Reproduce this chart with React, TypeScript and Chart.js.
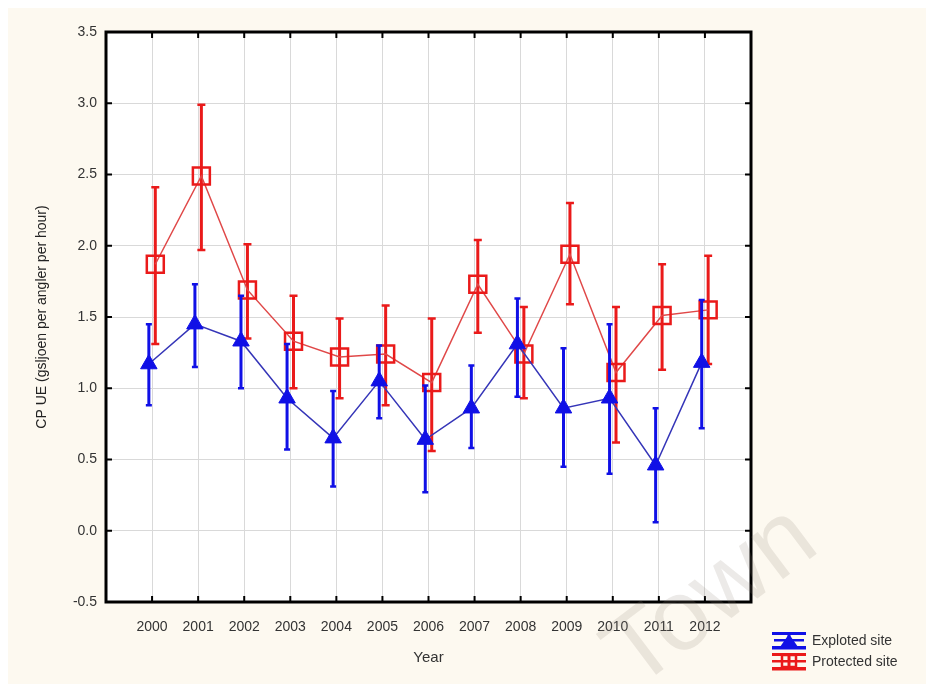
import React, { useEffect, useRef } from 'react';
import { Chart, registerables } from 'chart.js';

Chart.register(...registerables);

const years = [2000, 2001, 2002, 2003, 2004, 2005, 2006, 2007, 2008, 2009, 2010, 2011, 2012];

const exploitedMean = [1.17, 1.45, 1.33, 0.93, 0.65, 1.05, 0.64, 0.86, 1.31, 0.86, 0.93, 0.46, 1.18];
const exploitedUpper = [1.45, 1.73, 1.65, 1.31, 0.98, 1.30, 1.02, 1.16, 1.63, 1.28, 1.45, 0.86, 1.62];
const exploitedLower = [0.88, 1.15, 1.00, 0.57, 0.31, 0.79, 0.27, 0.58, 0.94, 0.45, 0.40, 0.06, 0.72];

const protectedMean = [1.87, 2.49, 1.69, 1.33, 1.22, 1.24, 1.04, 1.73, 1.24, 1.94, 1.11, 1.51, 1.55];
const protectedUpper = [2.41, 2.99, 2.01, 1.65, 1.49, 1.58, 1.49, 2.04, 1.57, 2.30, 1.57, 1.87, 1.93];
const protectedLower = [1.31, 1.97, 1.35, 1.00, 0.93, 0.88, 0.56, 1.39, 0.93, 1.59, 0.62, 1.13, 1.17];

const yTickValues = [-0.5, 0, 0.5, 1.0, 1.5, 2.0, 2.5, 3.0, 3.5];

const seriesNames = ['Exploted site', 'Protected site'];
const xTitle = 'Year';
const yTitle = 'CP UE (gsljoen per angler per hour)';
const watermark = 'Town';

const BLUE = '#1010e6';
const BLUE_LINE = '#3535b8';
const RED = '#ea1a1a';
const RED_LINE = '#e04848';
const CREAM = '#fdf9f0';
const FONT = '"Liberation Sans", Arial, sans-serif';
const DODGE = 0.07;

const lowers = [exploitedLower, protectedLower];
const uppers = [exploitedUpper, protectedUpper];
const barColors = [BLUE, RED];

export default function App() {
  const ref = useRef<HTMLCanvasElement | null>(null);

  useEffect(() => {
    const canvas = ref.current;
    if (!canvas) return;

    const bgPlugin = {
      id: 'bg',
      beforeDraw(chart: any) {
        const { ctx, width, height, chartArea } = chart;
        ctx.save();
        ctx.fillStyle = '#ffffff';
        ctx.fillRect(0, 0, width, height);
        ctx.fillStyle = CREAM;
        ctx.fillRect(8, 8, width - 8, height - 8);
        ctx.fillStyle = '#ffffff';
        ctx.fillRect(chartArea.left, chartArea.top, chartArea.right - chartArea.left, chartArea.bottom - chartArea.top);
        ctx.restore();
      },
    };

    const errPlugin = {
      id: 'errbars',
      beforeDatasetDraw(chart: any, args: any) {
        const i = args.index;
        const { ctx } = chart;
        const xs = chart.scales.x;
        const ys = chart.scales.y;
        const off = i === 0 ? -DODGE : DODGE;
        ctx.save();
        ctx.strokeStyle = barColors[i];
        const cap = i === 0 ? 3 : 4;
        years.forEach((yr, k) => {
          const px = xs.getPixelForValue(yr + off);
          const pTop = ys.getPixelForValue(uppers[i][k]);
          const pBot = ys.getPixelForValue(lowers[i][k]);
          ctx.lineWidth = 3;
          ctx.beginPath();
          ctx.moveTo(px, pTop);
          ctx.lineTo(px, pBot);
          ctx.stroke();
          ctx.lineWidth = 2.5;
          ctx.beginPath();
          ctx.moveTo(px - cap, pTop);
          ctx.lineTo(px + cap, pTop);
          ctx.moveTo(px - cap, pBot);
          ctx.lineTo(px + cap, pBot);
          ctx.stroke();
        });
        ctx.restore();
      },
    };

    const framePlugin = {
      id: 'frame',
      afterDraw(chart: any) {
        const { ctx, chartArea } = chart;
        const { left, right, top, bottom } = chartArea;
        const xs = chart.scales.x;
        const ys = chart.scales.y;
        ctx.save();
        ctx.strokeStyle = '#000';
        ctx.lineWidth = 2;
        ctx.beginPath();
        years.forEach((yr) => {
          const px = xs.getPixelForValue(yr);
          ctx.moveTo(px, bottom);
          ctx.lineTo(px, bottom - 6);
          ctx.moveTo(px, top);
          ctx.lineTo(px, top + 6);
        });
        yTickValues.forEach((v) => {
          const py = ys.getPixelForValue(v);
          ctx.moveTo(left, py);
          ctx.lineTo(left + 6, py);
          ctx.moveTo(right, py);
          ctx.lineTo(right - 6, py);
        });
        ctx.stroke();
        ctx.lineWidth = 3;
        ctx.strokeRect(left, top, right - left, bottom - top);

        // legend
        const lx = 772;
        const lw = 34;
        ctx.fillStyle = BLUE;
        ctx.fillRect(lx, 632, lw, 3);
        ctx.fillRect(lx + lw / 2 - 1.5, 632, 3, 16);
        ctx.beginPath();
        ctx.moveTo(lx + lw / 2, 634);
        ctx.lineTo(lx + lw / 2 + 9, 647);
        ctx.lineTo(lx + lw / 2 - 9, 647);
        ctx.closePath();
        ctx.fill();
        ctx.fillRect(lx + 2, 639, lw - 4, 2.5);
        ctx.fillRect(lx, 646, lw, 3.5);
        ctx.fillStyle = RED;
        ctx.fillRect(lx, 653, lw, 3);
        ctx.fillRect(lx, 660, lw, 2.5);
        ctx.fillRect(lx, 667, lw, 3.5);
        ctx.strokeStyle = RED;
        ctx.lineWidth = 2.5;
        ctx.strokeRect(lx + lw / 2 - 7, 655, 14, 12);
        ctx.fillRect(lx + lw / 2 - 1.5, 653, 3, 17);

        ctx.fillStyle = '#333';
        ctx.font = `14px ${FONT}`;
        ctx.textBaseline = 'middle';
        ctx.textAlign = 'left';
        ctx.fillText(seriesNames[0], 812, 641);
        ctx.fillText(seriesNames[1], 812, 662);

        // watermark
        ctx.translate(712, 598);
        ctx.rotate(-37 * Math.PI / 180);
        ctx.font = `100px ${FONT}`;
        ctx.textAlign = 'center';
        ctx.textBaseline = 'middle';
        ctx.fillStyle = 'rgba(140,130,120,0.17)';
        ctx.fillText(watermark, 0, 0);
        ctx.restore();
      },
    };

    const chart = new Chart(canvas, {
      type: 'line',
      data: {
        datasets: [
          {
            label: seriesNames[0],
            data: years.map((yr, k) => ({ x: yr - DODGE, y: exploitedMean[k] })),
            borderColor: BLUE_LINE,
            borderWidth: 1.5,
            pointStyle: 'triangle',
            pointRadius: 9.5,
            pointBackgroundColor: BLUE,
            pointBorderColor: BLUE,
            pointBorderWidth: 1,
            tension: 0,
          },
          {
            label: seriesNames[1],
            data: years.map((yr, k) => ({ x: yr + DODGE, y: protectedMean[k] })),
            borderColor: RED_LINE,
            borderWidth: 1.5,
            pointStyle: 'rect',
            pointRadius: 12,
            pointBackgroundColor: 'rgba(0,0,0,0)',
            pointBorderColor: RED,
            pointBorderWidth: 2.5,
            tension: 0,
          },
        ],
      },
      options: {
        animation: false,
        responsive: false,
        devicePixelRatio: 1,
        layout: { padding: { left: 0, top: 32, right: 175, bottom: 0 } },
        plugins: {
          legend: { display: false },
          tooltip: { enabled: false },
        },
        scales: {
          x: {
            type: 'linear',
            min: 1999,
            max: 2013,
            afterFit: (s: any) => { s.height = 82; },
            afterBuildTicks: (s: any) => { s.ticks = years.map((v) => ({ value: v })); },
            grid: { color: '#d9d9d9', lineWidth: 1, drawTicks: false },
            border: { display: false },
            ticks: {
              font: { family: FONT, size: 14 },
              color: '#333',
              padding: 17,
              maxRotation: 0,
              callback: (v: any) => String(v),
            },
            title: {
              display: true,
              text: xTitle,
              font: { family: FONT, size: 15 },
              color: '#333',
              padding: { bottom: 17, top: 0 },
            },
          },
          y: {
            type: 'linear',
            min: -0.5,
            max: 3.5,
            afterFit: (s: any) => { s.width = 106; },
            afterBuildTicks: (s: any) => { s.ticks = yTickValues.map((v) => ({ value: v })); },
            grid: { color: '#d9d9d9', lineWidth: 1, drawTicks: false },
            border: { display: false },
            ticks: {
              font: { family: FONT, size: 14 },
              color: '#333',
              padding: 9,
              callback: (v: any) => Number(v).toFixed(1),
            },
            title: {
              display: true,
              text: yTitle,
              font: { family: FONT, size: 14 },
              color: '#222',
              padding: { top: 34, bottom: 0 },
            },
          },
        },
      },
      plugins: [bgPlugin, errPlugin, framePlugin],
    } as any);

    return () => chart.destroy();
  }, []);

  return (
    <div style={{ position: 'fixed', left: 0, top: 0, width: 926, height: 684 }}>
      <canvas ref={ref} width={926} height={684} style={{ display: 'block', width: 926, height: 684 }} />
    </div>
  );
}
